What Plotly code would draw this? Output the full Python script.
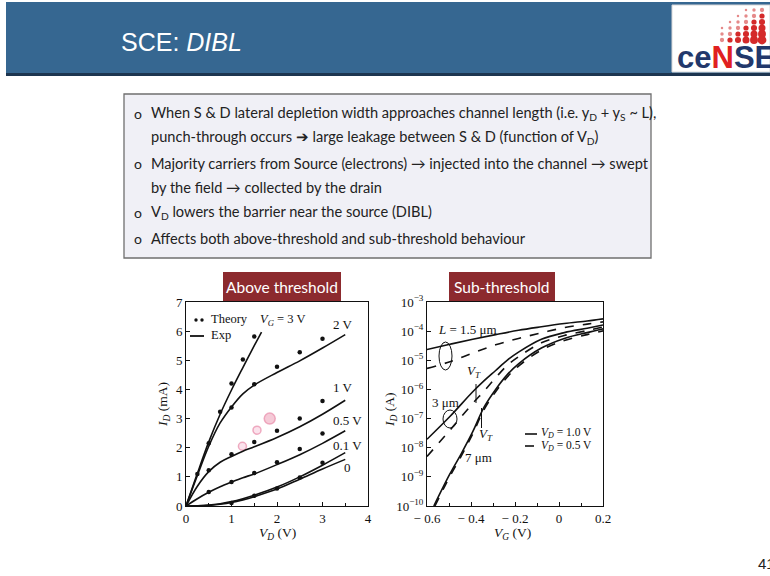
import plotly.graph_objects as go

W, H = 770, 576
def px(x): return x / W
def py(y): return 1 - y / H

# ---------------- data: above threshold (left) ----------------
vd_exp = [0, 0.25, 0.5, 0.75, 1.0, 1.25, 1.5, 2.0, 2.5, 3.0, 3.5]
vd_exp_vg3 = [0, 0.25, 0.5, 0.75, 1.0, 1.25, 1.5, 1.66]
id_exp_vg3 = [0, 1.12, 2.2, 3.15, 3.98, 4.75, 5.5, 5.97]
id_exp_vg2 = [0, 1.05, 2.05, 2.85, 3.4, 3.85, 4.15, 4.58, 4.98, 5.42, 5.88]
id_exp_vg1 = [0, 0.68, 1.18, 1.5, 1.7, 1.88, 2.03, 2.35, 2.72, 3.15, 3.63]
id_exp_vg05 = [0, 0.25, 0.47, 0.66, 0.82, 0.97, 1.1, 1.42, 1.76, 2.15, 2.58]
id_exp_vg01 = [0, 0.005, 0.03, 0.08, 0.15, 0.25, 0.37, 0.65, 1.0, 1.4, 1.83]
id_exp_vg0 = [0, 0.004, 0.02, 0.06, 0.12, 0.21, 0.32, 0.58, 0.92, 1.27, 1.6]

th_vg3_x = [0.25, 0.5, 0.75, 1.0, 1.25, 1.5]
th_vg3_y = [1.1, 2.15, 3.23, 4.2, 5.03, 5.82]
th_vg2_x = [1.0, 1.5, 2.0, 2.5, 3.0]
th_vg2_y = [3.38, 4.18, 4.78, 5.28, 5.74]
th_vg1_x = [0.5, 1.0, 1.5, 2.0, 2.5, 3.0]
th_vg1_y = [1.23, 1.78, 2.2, 2.58, 3.0, 3.6]
th_vg05_x = [0.5, 1.0, 1.5, 2.0, 2.5, 3.0]
th_vg05_y = [0.48, 0.82, 1.13, 1.5, 1.96, 2.49]
th_vg01_x = [1.0, 1.5, 2.0, 2.5, 3.0]
th_vg01_y = [0.1, 0.35, 0.6, 0.98, 1.48]

highlight_x = [1.24, 1.56, 1.84]
highlight_y = [2.05, 2.6, 3.0]

# ---------------- data: sub-threshold (right), log10(I_D / A) ----------------
vg_15 = [-0.6, -0.496, -0.392, -0.288, -0.184, -0.08, 0.024, 0.128, 0.2]
log_l15_vd1 = [-4.63, -4.45, -4.28, -4.12, -3.97, -3.85, -3.74, -3.65, -3.58]
log_l15_vd05 = [-5.28, -5.05, -4.75, -4.47, -4.25, -4.06, -3.88, -3.76, -3.68]
vg_3 = [-0.6, -0.496, -0.392, -0.34, -0.288, -0.236, -0.184, -0.08, 0.024, 0.128, 0.2]
log_l3_vd1 = [-7.71, -6.93, -6.08, -5.7, -5.35, -5.0, -4.72, -4.28, -4.05, -3.9, -3.79]
log_l3_vd05 = [-8.3, -7.4, -6.48, -6.05, -5.6, -5.18, -4.88, -4.4, -4.15, -3.98, -3.86]
vg_7 = [-0.569, -0.496, -0.444, -0.392, -0.34, -0.288, -0.236, -0.184, -0.08, 0.024, 0.128, 0.2]
log_l7_vd1 = [-10.0, -8.9, -8.2, -7.45, -6.6, -6.0, -5.5, -5.12, -4.58, -4.25, -4.05, -3.92]
vg_7d = [-0.564, -0.496, -0.444, -0.392, -0.34, -0.288, -0.236, -0.184, -0.08, 0.024, 0.128, 0.2]
log_l7_vd05 = [-10.0, -8.98, -8.28, -7.52, -6.68, -6.08, -5.58, -5.2, -4.65, -4.32, -4.12, -3.99]

left_xticks = [0, 1, 2, 3, 4]
left_yticks = [0, 1, 2, 3, 4, 5, 6, 7]
right_xticks = [-0.6, -0.4, -0.2, 0, 0.2]
right_xticklabels = ["\u2212 0.6", "\u2212 0.4", "\u2212 0.2", "0", "0.2"]
right_yticks_exp = [-10, -9, -8, -7, -6, -5, -4, -3]

bullets = [
    ("o", "When S &amp; D lateral depletion width approaches channel length (i.e. y<sub>D</sub> + y<sub>S</sub> ~ L),"),
    ("", "punch-through occurs \u2794 large leakage between S &amp; D (function of V<sub>D</sub>)"),
    ("o", "Majority carriers from Source (electrons) \u2192 injected into the channel \u2192 swept"),
    ("", "by the field \u2192 collected by the drain"),
    ("o", "V<sub>D</sub> lowers the barrier near the source (DIBL)"),
    ("o", "Affects both above-threshold and sub-threshold behaviour"),
]

SERIF = "Liberation Serif"
SANS = "Lato"
BLK = "#111111"

fig = go.Figure()

def exp_line(x, y):
    fig.add_trace(go.Scatter(x=x, y=y, mode="lines", line=dict(color=BLK, width=1.6, shape="spline"),
                             xaxis="x", yaxis="y", showlegend=False, hoverinfo="skip"))

def th_pts(x, y):
    fig.add_trace(go.Scatter(x=x, y=y, mode="markers", marker=dict(color=BLK, size=4.5),
                             xaxis="x", yaxis="y", showlegend=False, hoverinfo="skip"))

fig.add_trace(go.Scatter(x=highlight_x, y=highlight_y, mode="markers",
                         marker=dict(color=["rgba(240,140,180,0.35)", "rgba(240,140,180,0.35)", "rgba(225,90,130,0.45)"],
                                     size=[8, 8, 11], line=dict(color="rgba(225,100,140,0.75)", width=1.5)),
                         xaxis="x", yaxis="y", showlegend=False, hoverinfo="skip"))

exp_line(vd_exp_vg3, id_exp_vg3)
for ys in [id_exp_vg2, id_exp_vg1, id_exp_vg05, id_exp_vg01, id_exp_vg0]:
    exp_line(vd_exp, ys)
for xs, ys in [(th_vg3_x, th_vg3_y), (th_vg2_x, th_vg2_y), (th_vg1_x, th_vg1_y),
               (th_vg05_x, th_vg05_y), (th_vg01_x, th_vg01_y)]:
    th_pts(xs, ys)

def sub_line(x, logs, dash):
    fig.add_trace(go.Scatter(x=x, y=[10 ** v for v in logs], mode="lines",
                             line=dict(color=BLK, width=1.6, dash=dash, shape="spline"),
                             xaxis="x2", yaxis="y2", showlegend=False, hoverinfo="skip"))

sub_line(vg_15, log_l15_vd1, "solid")
sub_line(vg_15, log_l15_vd05, "dash")
sub_line(vg_3, log_l3_vd1, "solid")
sub_line(vg_3, log_l3_vd05, "dash")
sub_line(vg_7, log_l7_vd1, "solid")
sub_line(vg_7d, log_l7_vd05, "dash")

axis_common = dict(showline=True, mirror=True, linecolor=BLK, linewidth=1, ticks="inside", ticklen=4,
                   tickcolor=BLK, showgrid=False, zeroline=False, automargin=False,
                   tickfont=dict(family=SERIF, size=13, color=BLK))

shapes = []
annotations = []

def rect(x0, y0, x1, y1, fill, line_color=None, lw=0, layer="below"):
    shapes.append(dict(type="rect", xref="paper", yref="paper", x0=px(x0), x1=px(x1), y0=py(y1), y1=py(y0),
                       fillcolor=fill, line=dict(color=line_color or fill, width=lw), layer=layer))

def text(x, y, s, size, color=BLK, family=SANS, xanchor="left", yanchor="middle", angle=0):
    annotations.append(dict(x=px(x), y=py(y), xref="paper", yref="paper", text=s, showarrow=False,
                            xanchor=xanchor, yanchor=yanchor, textangle=angle,
                            font=dict(family=family, size=size, color=color)))

def line(x0, y0, x1, y1, color=BLK, width=1.5, dash="solid"):
    shapes.append(dict(type="line", xref="paper", yref="paper", x0=px(x0), x1=px(x1), y0=py(y0), y1=py(y1),
                       line=dict(color=color, width=width, dash=dash), layer="above"))

def ellipse(x0, y0, x1, y1, color=BLK, width=1):
    shapes.append(dict(type="circle", xref="paper", yref="paper", x0=px(x0), x1=px(x1), y0=py(y1), y1=py(y0),
                       line=dict(color=color, width=width), layer="above"))

# header
rect(6, 2, 770, 73, "#366791")
rect(6, 73, 770, 76, "#1d3550")
text(119, 42, "SCE: <i>DIBL</i>", 25, color="white", family="Liberation Sans")
# logo
rect(672, 5, 770, 72, "white", line_color="#d8d8d8", lw=1)
for r in range(6):
    for c in range(6):
        if c + r >= 3:
            cx = 722 + c * 8
            cy = 10 + r * 6
            rad = 0.8 + 0.45 * (c + r - 2)
            col = "#d42a2a" if c + r > 5 else "#e58a8a"
            shapes.append(dict(type="circle", xref="paper", yref="paper", x0=px(cx - rad), x1=px(cx + rad),
                               y0=py(cy + rad), y1=py(cy - rad), fillcolor=col, line=dict(width=0)))
text(675, 58, "<b><span style='color:#22386b'>ce</span><span style='color:#e02020'>N</span><span style='color:#22386b'>SE</span></b>",
     31, family="Liberation Sans")

# bullet box
rect(124, 94, 651, 258, "#f0f0f6", line_color="#6f6f6f", lw=1.3)
line_ys = [113, 137, 163, 187, 212, 238]
for (b, s), yy in zip(bullets, line_ys):
    if b:
        text(132, yy, "o", 14, color="#222", family=SANS)
    text(149, yy, s, 14.6, color="#222", family=SANS)

# subplot title boxes
rect(223, 272, 341, 302, "#8c2a2e")
text(282, 287, "Above threshold", 15.5, color="white", xanchor="center")
rect(449, 272, 555, 302, "#8c2a2e")
text(502, 287, "Sub-threshold", 15.5, color="white", xanchor="center")

# left plot annotations
text(163, 405, "<i>I<sub>D</sub></i> (mA)", 13.5, family=SERIF, xanchor="center", angle=-90)
text(277, 533, "<i>V<sub>D</sub></i> (V)", 13.5, family=SERIF, xanchor="center")
text(258, 320, "<i>V<sub>G</sub></i> = 3 V", 12.5, family=SERIF)
text(343, 324, "2 V", 13, family=SERIF, xanchor="center")
text(343, 387, "1 V", 13, family=SERIF, xanchor="center")
text(347, 420, "0.5 V", 13, family=SERIF, xanchor="center")
text(347, 445, "0.1 V", 13, family=SERIF, xanchor="center")
text(347, 467, "0", 13, family=SERIF, xanchor="center")
for cx in [196, 202]:
    shapes.append(dict(type="circle", xref="paper", yref="paper", x0=px(cx - 1.7), x1=px(cx + 1.7),
                       y0=py(320 + 1.7), y1=py(320 - 1.7), fillcolor=BLK, line=dict(width=0)))
text(209, 319, "Theory", 12.5, family=SERIF)
line(190, 336, 204, 336, width=1.8)
text(209, 335, "Exp", 12.5, family=SERIF)

# right plot annotations
text(390, 410, "<i>I<sub>D</sub></i> (A)", 13.5, family=SERIF, xanchor="center", angle=-90)
text(512, 533, "<i>V<sub>G</sub></i> (V)", 13.5, family=SERIF, xanchor="center")
text(436, 329, "<i>L</i> = 1.5 \u03bcm", 13, family=SERIF)
text(430, 402, "3 \u03bcm", 13, family=SERIF)
text(463, 457, "7 \u03bcm", 13, family=SERIF)
text(465, 371, "<i>V<sub>T</sub></i>", 13, family=SERIF)
text(477, 434, "<i>V<sub>T</sub></i>", 13, family=SERIF)
line(476, 384, 476, 403, width=1)
line(481.5, 408, 481.5, 428, width=1)
ellipse(439, 342, 452, 370)
ellipse(443, 410, 457, 428)
line(525, 434, 537, 434, width=1.6)
text(539, 433, "<i>V<sub>D</sub></i> = 1.0 V", 11.5, family=SERIF)
line(525, 446, 537, 446, width=1.6, dash="dash")
text(539, 446, "<i>V<sub>D</sub></i> = 0.5 V", 11.5, family=SERIF)

# page number
text(756, 563, "41", 15, color="#222", family="Liberation Sans")

fig.update_layout(
    width=W, height=H, autosize=False, margin=dict(l=0, r=0, t=0, b=0, pad=0),
    paper_bgcolor="white", plot_bgcolor="white",
    xaxis=dict(domain=[px(186), px(368)], range=[0, 4], tickvals=left_xticks, anchor="y",
               minor=dict(ticks="inside", ticklen=3, dtick=0.5, tickcolor=BLK), **axis_common),
    yaxis=dict(domain=[py(506), py(302)], range=[0, 7], tickvals=left_yticks, anchor="x", **axis_common),
    xaxis2=dict(domain=[px(427), px(603)], range=[-0.6, 0.2], tickvals=right_xticks,
                ticktext=right_xticklabels, anchor="y2",
                minor=dict(ticks="inside", ticklen=3, dtick=0.1, tickcolor=BLK), **axis_common),
    yaxis2=dict(domain=[py(506), py(302)], type="log", range=[-10, -3],
                tickvals=[10 ** e for e in right_yticks_exp],
                ticktext=["10<sup>\u2212%d</sup>" % -e for e in right_yticks_exp],
                anchor="x2", **axis_common),
    shapes=shapes, annotations=annotations,
)

fig.write_html("out.html", config={"displayModeBar": False},
               post_script="document.body.style.margin='0px';document.body.style.padding='0px';"
                           "document.documentElement.style.overflow='hidden';")
